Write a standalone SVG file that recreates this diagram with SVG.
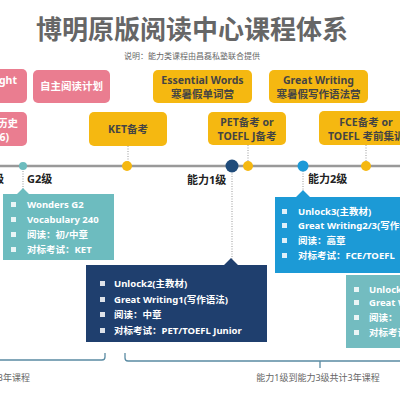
<svg xmlns="http://www.w3.org/2000/svg" width="400" height="400" viewBox="0 0 400 400">
<style>
text{font-family:"Noto Sans","Noto Sans CJK SC",sans-serif;font-weight:bold}
.title{font-size:26px;fill:#666}
.sub{font-size:8px;fill:#666;font-weight:normal}
.pk{fill:#ea7d90}
.yl{fill:#f5b811}
.bt{font-size:10.5px;fill:#fff}
.yt{font-size:10.5px;fill:#444}
.lt{font-size:11px;fill:#222}
.it{font-size:9.5px;fill:#fff}
.bul{fill:#fff;opacity:.85}
.dot{stroke:#999;stroke-width:1;stroke-dasharray:1 1.5;fill:none}
.br{stroke:#5a8ba3;stroke-width:1.3;fill:none}
.bot{font-size:9px;fill:#666;font-weight:normal}
</style>
<rect width="400" height="400" fill="#fff"/>
<text class="title" x="192" y="39" text-anchor="middle">博明原版阅读中心课程体系</text>
<text class="sub" x="192" y="59" text-anchor="middle">说明：能力类课程由昌磊私塾联合提供</text>

<g id="pink1"><rect class="pk" x="-10" y="69" width="37" height="34" rx="5"/><text class="bt" x="17" y="84" text-anchor="end">ght</text></g>
<g id="pink2"><rect class="pk" x="-10" y="112" width="37" height="34" rx="5"/><text class="bt" x="18" y="127" text-anchor="end">历史</text><text class="bt" x="9" y="141" text-anchor="end">6)</text></g>
<g id="pink3"><rect class="pk" x="33" y="70" width="77" height="33" rx="5"/><text class="bt" x="71.5" y="90" text-anchor="middle">自主阅读计划</text></g>

<g id="ket"><rect class="yl" x="89" y="112" width="78" height="34" rx="5"/><text class="yt" x="128" y="133" text-anchor="middle">KET备考</text></g>
<g id="ew"><rect class="yl" x="153" y="70" width="99" height="33" rx="5"/><text class="yt" x="202.5" y="84" text-anchor="middle">Essential Words</text><text class="yt" x="202.5" y="98" text-anchor="middle">寒暑假单词营</text></g>
<g id="gw"><rect class="yl" x="269" y="70" width="99" height="33" rx="5"/><text class="yt" x="318.5" y="84" text-anchor="middle">Great Writing</text><text class="yt" x="318.5" y="98" text-anchor="middle">寒暑假写作语法营</text></g>
<g id="pet"><rect class="yl" x="208" y="112" width="78" height="33" rx="5"/><text class="yt" x="247" y="126" text-anchor="middle">PET备考 or</text><text class="yt" x="247" y="140" text-anchor="middle">TOEFL J备考</text></g>
<g id="fce"><rect class="yl" x="319" y="111" width="100" height="34" rx="5"/><text class="yt" x="366" y="126" text-anchor="middle">FCE备考 or</text><text class="yt" x="328" y="140">TOEFL 考前集训</text></g>

<g id="connectors">
<line x1="0" y1="166" x2="400" y2="166" stroke="#999" stroke-width="2.5"/>
<line class="dot" x1="128" y1="146" x2="128" y2="166" stroke="#c9a640"/>
<line class="dot" x1="248" y1="145" x2="248" y2="166"/>
<line class="dot" x1="366" y1="145" x2="366" y2="166"/>
<line class="dot" x1="23" y1="166" x2="23" y2="190"/>
<line class="dot" x1="232" y1="166" x2="232" y2="262"/>
<line class="dot" x1="303" y1="166" x2="303" y2="193"/>
<path class="br" d="M-5 360 H102 Q105 360 105 357 V353"/>
<path class="br" d="M125 353 V358 Q125 361 128 361 H400 M320 361 V368"/>
</g>

<g id="dots">
<circle cx="23" cy="166" r="4" fill="#6cbcbe"/>
<circle cx="127" cy="166" r="5" fill="#f5b811"/>
<circle cx="232" cy="166" r="6.5" fill="#1f4b7a"/>
<circle cx="248" cy="166" r="5" fill="#f5b811"/>
<circle cx="303" cy="166" r="5.5" fill="#1c9ad8"/>
<circle cx="366" cy="166" r="5" fill="#f5b811"/>
</g>

<g id="levels">
<text class="lt" x="4" y="183" text-anchor="end">级</text>
<text class="lt" x="27" y="183">G2级</text>
<text class="lt" x="187" y="184">能力1级</text>
<text class="lt" x="308" y="183">能力2级</text>
</g>

<g id="g2box">
<path d="M3 194 H17 L23 188 L29 194 H114 V260 H3 Z" fill="#6dbcbf"/>
<rect class="bul" x="11" y="202" width="5" height="5"/><text class="it" x="27" y="208">Wonders G2</text>
<rect class="bul" x="11" y="217" width="5" height="5"/><text class="it" x="27" y="223">Vocabulary 240</text>
<rect class="bul" x="11" y="232" width="5" height="5"/><text class="it" x="27" y="238">阅读：初/中章</text>
<rect class="bul" x="11" y="247" width="5" height="5"/><text class="it" x="27" y="253">对标考试：KET</text>
</g>

<g id="l1box">
<path d="M86 265 H224 L231 258 L238 265 H267 V342 H86 Z" fill="#1f3f6e"/>
<rect class="bul" x="100" y="281" width="5" height="5"/><text class="it" x="114" y="287">Unlock2(主教材)</text>
<rect class="bul" x="100" y="297" width="5" height="5"/><text class="it" x="114" y="303">Great Writing1(写作语法)</text>
<rect class="bul" x="100" y="312" width="5" height="5"/><text class="it" x="114" y="318">阅读：中章</text>
<rect class="bul" x="100" y="328" width="5" height="5"/><text class="it" x="114" y="334">对标考试：PET/TOEFL Junior</text>
</g>

<g id="l2box">
<path d="M275 197 H296 L303 190 L310 197 H405 V273 H275 Z" fill="#1c9ad6"/>
<rect class="bul" x="282" y="209" width="5" height="5"/><text class="it" x="298" y="215">Unlock3(主教材)</text>
<rect class="bul" x="282" y="223" width="5" height="5"/><text class="it" x="298" y="229">Great Writing2/3(写作语法)</text>
<rect class="bul" x="282" y="238" width="5" height="5"/><text class="it" x="298" y="244">阅读：高章</text>
<rect class="bul" x="282" y="253" width="5" height="5"/><text class="it" x="298" y="259">对标考试：FCE/TOEFL</text>
</g>

<g id="l3box">
<rect x="346" y="275" width="60" height="73" fill="#73bcc0"/>
<rect class="bul" x="354" y="287" width="5" height="5"/><text class="it" x="369" y="293">Unlock4(主教材)</text>
<rect class="bul" x="354" y="300" width="5" height="5"/><text class="it" x="369" y="306">Great Writing</text>
<rect class="bul" x="354" y="315" width="5" height="5"/><text class="it" x="369" y="321">阅读：</text>
<rect class="bul" x="354" y="330" width="5" height="5"/><text class="it" x="369" y="336">对标考试</text>
</g>

<text class="bot" x="30" y="381" text-anchor="end">3年课程</text>
<text class="bot" x="318" y="381" text-anchor="middle">能力1级到能力3级共计3年课程</text>
</svg>
